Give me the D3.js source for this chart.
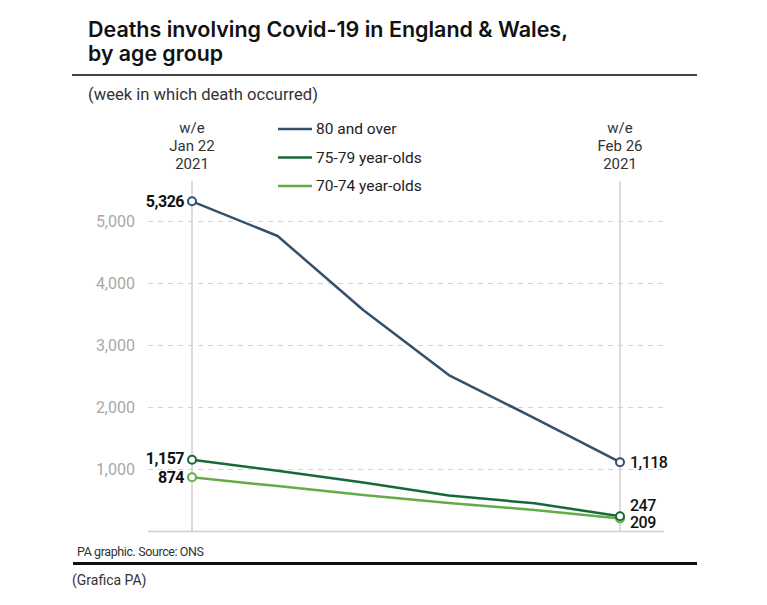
<!DOCTYPE html>
<html>
<head>
<meta charset="utf-8">
<script src="https://cdn.jsdelivr.net/npm/d3@7"></script>
<style>
  body { margin: 0; background: #fff; }
  svg { font-family: Roboto, "Liberation Sans", sans-serif; }
</style>
</head>
<body>
<div id="chart"></div>
<script>
// weeks ending (w/e), 2021
const weeks = ["Jan 22", "Jan 29", "Feb 5", "Feb 12", "Feb 19", "Feb 26"];
// deaths per week
const over80 = [5326, 4766, 3573, 2524, 1830, 1118];
const age7579 = [1157, 980, 790, 580, 455, 247];
const age7074 = [874, 732, 590, 460, 347, 209];
const yTicks = [1000, 2000, 3000, 4000, 5000];
const seriesNames = ["80 and over", "75-79 year-olds", "70-74 year-olds"];
const seriesColors = ["#34506b", "#17683a", "#64ac48"];

const width = 767, height = 605;
const svg = d3.select('#chart').append('svg')
    .attr('width', width)
    .attr('height', height);

// header
const title = svg.append('g')
    .attr('font-family', 'Inter, Roboto, sans-serif')
    .attr('font-size', 21).attr('font-weight', 600).attr('fill', '#111');
title.append('text')
    .attr('x', 88).attr('y', 37)
    .attr('textLength', 480).attr('lengthAdjust', 'spacingAndGlyphs')
    .text('Deaths involving Covid-19 in England & Wales,');
title.append('text')
    .attr('x', 88).attr('y', 61)
    .attr('textLength', 135).attr('lengthAdjust', 'spacingAndGlyphs')
    .text('by age group');
svg.append('line')
    .attr('x1', 72).attr('x2', 697).attr('y1', 75).attr('y2', 75)
    .attr('stroke', '#444').attr('stroke-width', 2);
svg.append('text')
    .attr('x', 88).attr('y', 100)
    .attr('font-size', 17).attr('fill', '#333')
    .attr('textLength', 230).attr('lengthAdjust', 'spacingAndGlyphs')
    .text('(week in which death occurred)');

// scales
const x = d3.scalePoint().domain(weeks).range([192, 620]);
const y = d3.scaleLinear().domain([0, 5000]).range([531.5, 221.5]);

// gridlines
svg.append('g')
    .selectAll('line')
    .data(yTicks)
    .join('line')
    .attr('x1', 148).attr('x2', 664)
    .attr('y1', d => y(d)).attr('y2', d => y(d))
    .attr('stroke', '#d4d4d4').attr('stroke-width', 1.2)
    .attr('stroke-dasharray', '5,5');

// y axis labels (no domain line)
const yAxis = svg.append('g')
    .attr('transform', 'translate(135,0)')
    .call(d3.axisLeft(y).tickValues(yTicks).tickSize(0).tickPadding(0).tickFormat(d3.format(',')));
yAxis.select('.domain').remove();
yAxis.selectAll('text')
    .attr('font-family', 'Roboto, sans-serif')
    .attr('font-size', 16).attr('fill', '#a8a8a8');

// baseline
svg.append('line')
    .attr('x1', 148).attr('x2', 664).attr('y1', y(0)).attr('y2', y(0))
    .attr('stroke', '#cfcfcf').attr('stroke-width', 1.5);

// first and last week markers
const ends = [weeks[0], weeks[weeks.length - 1]];
svg.append('g')
    .selectAll('line')
    .data(ends)
    .join('line')
    .attr('x1', d => x(d)).attr('x2', d => x(d))
    .attr('y1', 181).attr('y2', y(0))
    .attr('stroke', '#d0d0d0').attr('stroke-width', 1.5);
const endLabels = svg.append('g')
    .selectAll('text')
    .data(ends)
    .join('text')
    .attr('text-anchor', 'middle')
    .attr('font-size', 15).attr('fill', '#333');
endLabels.each(function(d) {
    const t = d3.select(this);
    ['w/e', d, '2021'].forEach((s, i) => {
        t.append('tspan').attr('x', x(d)).attr('y', 133 + i * 18).text(s);
    });
});

// legend
const legend = svg.append('g')
    .selectAll('g')
    .data(seriesNames)
    .join('g')
    .attr('transform', (d, i) => `translate(278,${129 + i * 28.5})`);
legend.append('line')
    .attr('x1', 0).attr('x2', 34)
    .attr('stroke', (d, i) => seriesColors[i]).attr('stroke-width', 2.5);
legend.append('text')
    .attr('x', 38).attr('dy', '0.35em')
    .attr('font-size', 15.5).attr('fill', '#222')
    .text(d => d);

// lines
const series = [over80, age7579, age7074];
const lineGen = d3.line()
    .x((d, i) => x(weeks[i]))
    .y(d => y(d));
const seriesG = svg.append('g')
    .selectAll('g')
    .data(series)
    .join('g');
seriesG.append('path')
    .attr('d', d => lineGen(d))
    .attr('fill', 'none')
    .attr('stroke', (d, i) => seriesColors[i])
    .attr('stroke-width', 2.5)
    .attr('stroke-linejoin', 'round');

// end-point circles (drawn bottom series first)
[2, 1, 0].forEach(i => {
    const vals = series[i];
    [0, vals.length - 1].forEach(j => {
        svg.append('circle')
            .attr('cx', x(weeks[j])).attr('cy', y(vals[j]))
            .attr('r', 4)
            .attr('fill', '#fff')
            .attr('stroke', seriesColors[i])
            .attr('stroke-width', 2);
    });
});

// value labels
const fmt = d3.format(',');
const leftOffsets = [0, -1, 0];
series.forEach((vals, i) => {
    svg.append('text')
        .attr('x', x(weeks[0]) - 8).attr('y', y(vals[0]) + leftOffsets[i])
        .attr('dy', '0.35em').attr('text-anchor', 'end')
        .attr('font-size', 16).attr('font-weight', 700).attr('fill', '#111')
        .attr('letter-spacing', -0.5)
        .text(fmt(vals[0]));
});
const rightY = [y(over80[5]), y(age7579[5]) - 11, y(age7074[5]) + 4];
series.forEach((vals, i) => {
    svg.append('text')
        .attr('x', x(weeks[5]) + 10).attr('y', rightY[i])
        .attr('dy', '0.35em')
        .attr('font-size', 16).attr('font-weight', 500).attr('fill', '#111')
        .attr('letter-spacing', -0.5)
        .text(fmt(vals[5]));
});

// footer
svg.append('text')
    .attr('x', 77).attr('y', 556)
    .attr('font-size', 12.5).attr('fill', '#333').attr('letter-spacing', -0.4)
    .text('PA graphic. Source: ONS');
svg.append('line')
    .attr('x1', 73).attr('x2', 697).attr('y1', 563.5).attr('y2', 563.5)
    .attr('stroke', '#111').attr('stroke-width', 3);
svg.append('text')
    .attr('x', 72).attr('y', 585)
    .attr('font-size', 14).attr('fill', '#333')
    .text('(Grafica PA)');
</script>
</body>
</html>
